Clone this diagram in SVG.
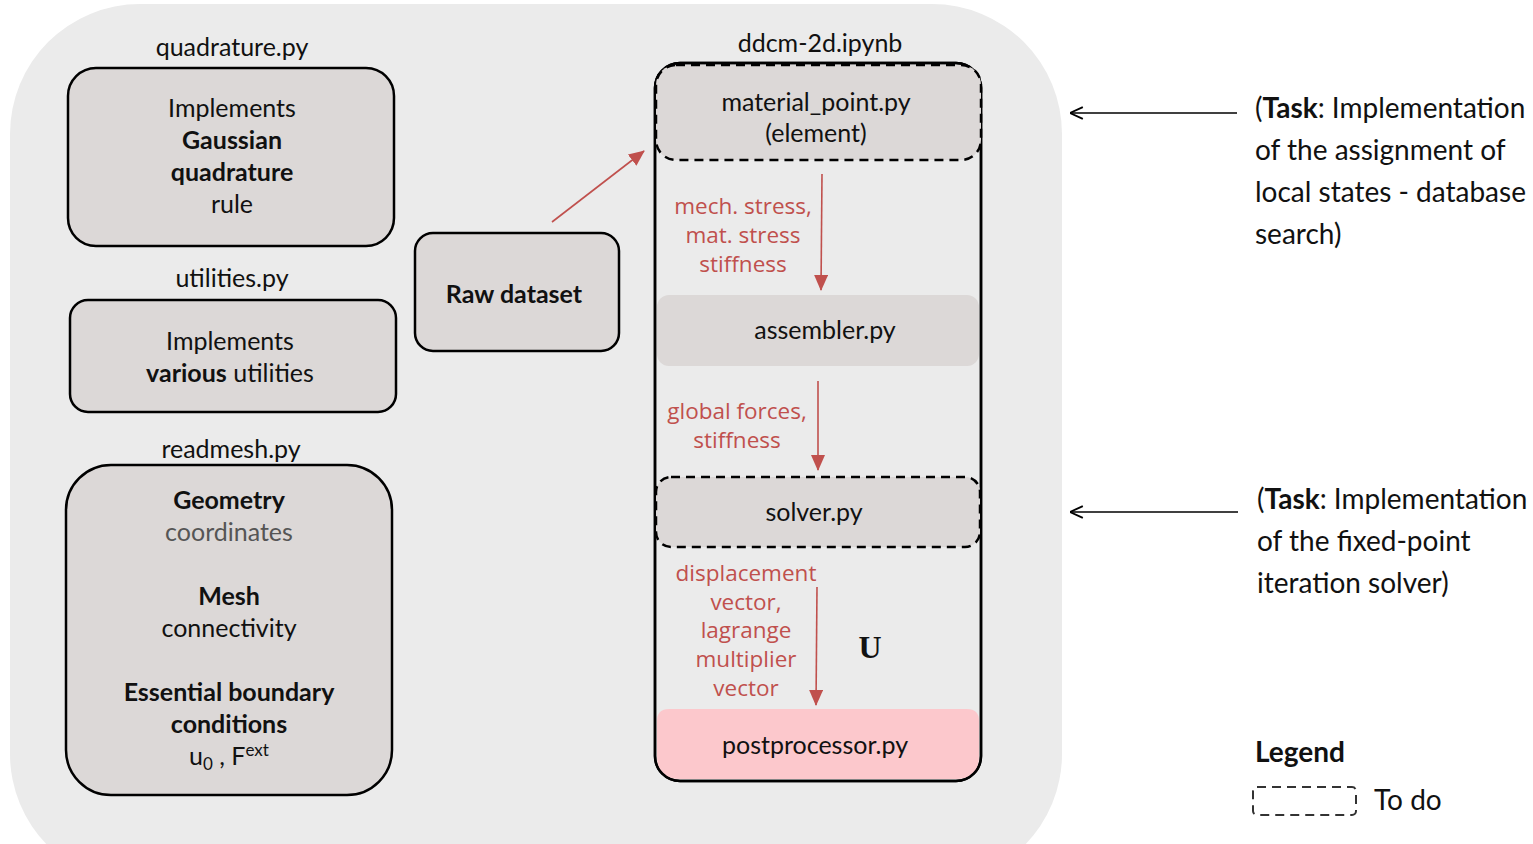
<svg xmlns="http://www.w3.org/2000/svg" width="1533" height="844" viewBox="0 0 1533 844">
<defs>
<style>
.t{font-family:Lato,"Open Sans","Liberation Sans",sans-serif;font-size:25px;fill:#111;text-anchor:middle}
.b{font-weight:bold}
.r{font-family:"Open Sans",Lato,"Liberation Sans",sans-serif;font-size:22.5px;fill:#c0504d;text-anchor:middle}
.rt{font-family:Lato,"Open Sans","Liberation Sans",sans-serif;font-size:28px;fill:#111}
.box{fill:#dcd8d7;stroke:#000;stroke-width:2.5}
.dash{fill:#dcd8d7;stroke:#000;stroke-width:2.5;stroke-dasharray:9 6}
.red{stroke:#c0504d;stroke-width:1.6;fill:none}
.blk{stroke:#000;stroke-width:1.6;fill:none}
</style>
<marker id="ar" viewBox="0 0 16 14" refX="15" refY="7" markerWidth="16" markerHeight="14" markerUnits="userSpaceOnUse" orient="auto">
<path d="M0,0 L16,7 L0,14 z" fill="#c0504d"/>
</marker>
<marker id="ar2" viewBox="0 0 12 12" refX="12" refY="6" markerWidth="14" markerHeight="14" markerUnits="userSpaceOnUse" orient="auto">
<path d="M1,1 L12,6 L1,11" fill="none" stroke="#000" stroke-width="1.6"/>
</marker>
</defs>
<rect id="background" x="10" y="4" width="1052" height="880" rx="130" fill="#ebebeb"/>

<g id="quadrature">
<text class="t" x="232" y="56">quadrature.py</text>
<rect class="box" x="68" y="68" width="326" height="178" rx="28"/>
<text class="t" x="232" y="117">Implements</text>
<text class="t b" x="232" y="149">Gaussian</text>
<text class="t b" x="232" y="181">quadrature</text>
<text class="t" x="232" y="213">rule</text>
</g>

<g id="utilities">
<text class="t" x="232" y="287">utilities.py</text>
<rect class="box" x="70" y="300" width="326" height="112" rx="18"/>
<text class="t" x="230" y="350">Implements</text>
<text class="t" x="230" y="382"><tspan class="b">various</tspan> utilities</text>
</g>

<g id="readmesh">
<text class="t" x="231" y="458">readmesh.py</text>
<rect class="box" x="66" y="465" width="326" height="330" rx="45"/>
<text class="t b" x="229" y="509">Geometry</text>
<text class="t" x="229" y="541" style="fill:#555">coordinates</text>
<text class="t b" x="229" y="605">Mesh</text>
<text class="t" x="229" y="637">connectivity</text>
<text class="t b" x="229" y="701">Essential boundary</text>
<text class="t b" x="229" y="733">conditions</text>
<text class="t" x="229" y="765">u<tspan font-size="17" dy="5">0</tspan><tspan dy="-5"> , F</tspan><tspan font-size="17" dy="-9">ext</tspan></text>
</g>

<g id="rawdataset">
<rect class="box" x="415" y="233" width="204" height="118" rx="18"/>
<text class="t b" x="514" y="303">Raw dataset</text>
</g>

<g id="ddcm">
<text class="t" x="820" y="52">ddcm-2d.ipynb</text>
<rect x="655" y="63" width="326" height="718" rx="25" fill="none" stroke="#000" stroke-width="2.5"/>
</g>

<g id="postprocessor">
<path d="M657,721 Q657,709 669,709 L967,709 Q979,709 979,721 L979,756 Q979,779 956,779 L680,779 Q657,779 657,756 Z" fill="#fcc8cc"/>
<rect x="655" y="63" width="326" height="718" rx="25" fill="none" stroke="#000" stroke-width="2.5"/>
<text class="t" x="815" y="754">postprocessor.py</text>
</g>

<g id="material_point">
<rect class="dash" x="656" y="65" width="325" height="95" rx="20"/>
<text class="t" x="816" y="111">material_point.py</text>
<text class="t" x="816" y="142">(element)</text>
</g>

<g id="assembler">
<rect x="657" y="295" width="322" height="71" rx="12" fill="#dcd8d7"/>
<text class="t" x="825" y="339">assembler.py</text>
</g>

<g id="solver">
<rect class="dash" x="656" y="477" width="324" height="70" rx="15"/>
<text class="t" x="814" y="521">solver.py</text>
</g>

<g id="connectors">
<line class="red" x1="552" y1="222" x2="644" y2="151" marker-end="url(#ar)"/>
<line class="red" x1="822" y1="174" x2="821" y2="290" marker-end="url(#ar)"/>
<line class="red" x1="818" y1="381" x2="818" y2="470" marker-end="url(#ar)"/>
<line class="red" x1="817" y1="587" x2="816" y2="705" marker-end="url(#ar)"/>
<line class="blk" x1="1237" y1="113" x2="1070" y2="113" marker-end="url(#ar2)"/>
<line class="blk" x1="1238" y1="512" x2="1070" y2="512" marker-end="url(#ar2)"/>
</g>

<g id="labels">
<text class="r" x="743" y="214">mech. stress,</text>
<text class="r" x="743" y="243">mat. stress</text>
<text class="r" x="743" y="272">stiffness</text>
<text class="r" x="737" y="419">global forces,</text>
<text class="r" x="737" y="448">stiffness</text>
<text class="r" x="746" y="581">displacement</text>
<text class="r" x="746" y="610">vector,</text>
<text class="r" x="746" y="638">lagrange</text>
<text class="r" x="746" y="667">multiplier</text>
<text class="r" x="746" y="696">vector</text>
<text x="870" y="658" font-family="'Liberation Serif',serif" font-size="32" font-weight="bold" fill="#111" text-anchor="middle">U</text>
</g>

<g id="task1">
<text class="rt" x="1255" y="118">(<tspan font-weight="bold">Task</tspan>: Implementation</text>
<text class="rt" x="1255" y="160">of the assignment of</text>
<text class="rt" x="1255" y="202">local states - database</text>
<text class="rt" x="1255" y="244">search)</text>
</g>

<g id="task2">
<text class="rt" x="1257" y="509">(<tspan font-weight="bold">Task</tspan>: Implementation</text>
<text class="rt" x="1257" y="551">of the fixed-point</text>
<text class="rt" x="1257" y="593">iteration solver)</text>
</g>

<g id="legend">
<text class="rt" x="1255" y="762" font-weight="bold" font-size="32">Legend</text>
<rect x="1253" y="787" width="103" height="28" rx="4" fill="none" stroke="#333" stroke-width="2" stroke-dasharray="9 6"/>
<text class="rt" x="1374" y="810">To do</text>
</g>
</svg>
